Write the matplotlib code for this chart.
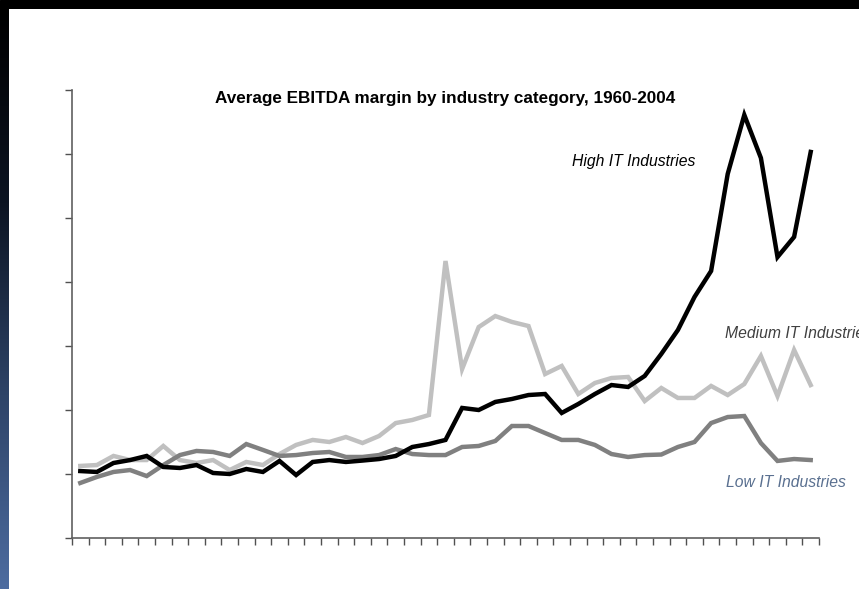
import numpy as np
import matplotlib
matplotlib.use("Agg")
import matplotlib.pyplot as plt
from matplotlib.colors import LinearSegmentedColormap

years = list(range(1960, 2005))

high_it = [5.23, 5.16, 5.86, 6.09, 6.41, 5.55, 5.47, 5.70, 5.08, 5.00,
           5.39, 5.16, 6.02, 4.92, 5.94, 6.09, 5.94, 6.05, 6.17, 6.41,
           7.11, 7.34, 7.66, 10.16, 10.00, 10.63, 10.86, 11.17, 11.25, 9.77,
           10.47, 11.25, 11.95, 11.80, 12.66, 14.38, 16.25, 18.83, 20.86, 28.44,
           33.05, 29.69, 21.95, 23.52, 30.16]
medium_it = [5.63, 5.70, 6.41, 6.09, 6.09, 7.19, 6.09, 5.86, 6.09, 5.31,
             5.94, 5.70, 6.56, 7.27, 7.66, 7.50, 7.89, 7.42, 7.97, 8.98,
             9.22, 9.61, 21.64, 13.20, 16.48, 17.34, 16.88, 16.56, 12.81, 13.44,
             11.25, 12.11, 12.50, 12.58, 10.70, 11.72, 10.94, 10.94, 11.88, 11.17,
             12.03, 14.22, 11.09, 14.69, 11.95]
low_it = [4.30, 4.77, 5.16, 5.31, 4.84, 5.70, 6.48, 6.80, 6.72, 6.41,
          7.34, 6.88, 6.41, 6.48, 6.64, 6.72, 6.33, 6.33, 6.48, 6.95,
          6.56, 6.48, 6.48, 7.11, 7.19, 7.58, 8.75, 8.75, 8.20, 7.66,
          7.66, 7.27, 6.56, 6.33, 6.48, 6.52, 7.11, 7.50, 8.98, 9.45,
          9.53, 7.42, 6.02, 6.17, 6.09]

fig = plt.figure(figsize=(8.59, 5.89), dpi=100)
fig.patch.set_facecolor("white")

# slide frame: black band on top, dark-to-blue strip on the left
top = fig.add_axes([0, 1 - 9 / 589, 1, 9 / 589])
top.set_axis_off()
top.add_patch(plt.Rectangle((0, 0), 1, 1, color="black", transform=top.transAxes))

side = fig.add_axes([0, 0, 9 / 859, 1 - 9 / 589])
cmap = LinearSegmentedColormap.from_list("strip", ["black", "#0c1422", "#2e4468", "#4d6ca0"])
side.imshow(np.linspace(0, 1, 256).reshape(-1, 1), aspect="auto", cmap=cmap, origin="upper")
side.set_axis_off()

ax = fig.add_axes([72 / 859, 51 / 589, 747 / 859, 448 / 589])
x = np.arange(len(years))
ax.plot(x, medium_it, color="#c0c0c0", lw=3.2, solid_joinstyle="miter")
ax.plot(x, low_it, color="#808080", lw=3.2, solid_joinstyle="miter")
ax.plot(x, high_it, color="black", lw=3.2, solid_joinstyle="miter")

ax.set_xlim(-0.5, len(years) - 0.5)
ax.set_ylim(0, 35)
ax.set_xticks(np.arange(len(years) + 1) - 0.5)
ax.set_yticks(np.arange(0, 36, 5))
ax.set_xticklabels([])
ax.set_yticklabels([])
ax.tick_params(axis="both", direction="out", length=5, width=1, color="#505050")
for s in ["top", "right"]:
    ax.spines[s].set_visible(False)
for s in ["left", "bottom"]:
    ax.spines[s].set_color("#606060")
    ax.spines[s].set_linewidth(1.2)

fig.text(445.5 / 859, 1 - 98 / 589, "Average EBITDA margin by industry category, 1960-2004",
         fontsize=12.3, fontweight="bold", family="Liberation Sans", ha="center", va="center")

ax.text(29.6, 29.4, "High IT Industries", fontsize=11.3, style="italic",
        family="Liberation Sans", color="black", va="center", ha="left")
ax.text(38.85, 16.0, "Medium IT Industries", fontsize=11.3, style="italic",
        family="Liberation Sans", color="#404040", va="center", ha="left", clip_on=False)
ax.text(38.9, 4.3, "Low IT Industries", fontsize=11.3, style="italic",
        family="Liberation Sans", color="#5a7090", va="center", ha="left")

fig.savefig("out.png", dpi=100, facecolor=fig.get_facecolor())
